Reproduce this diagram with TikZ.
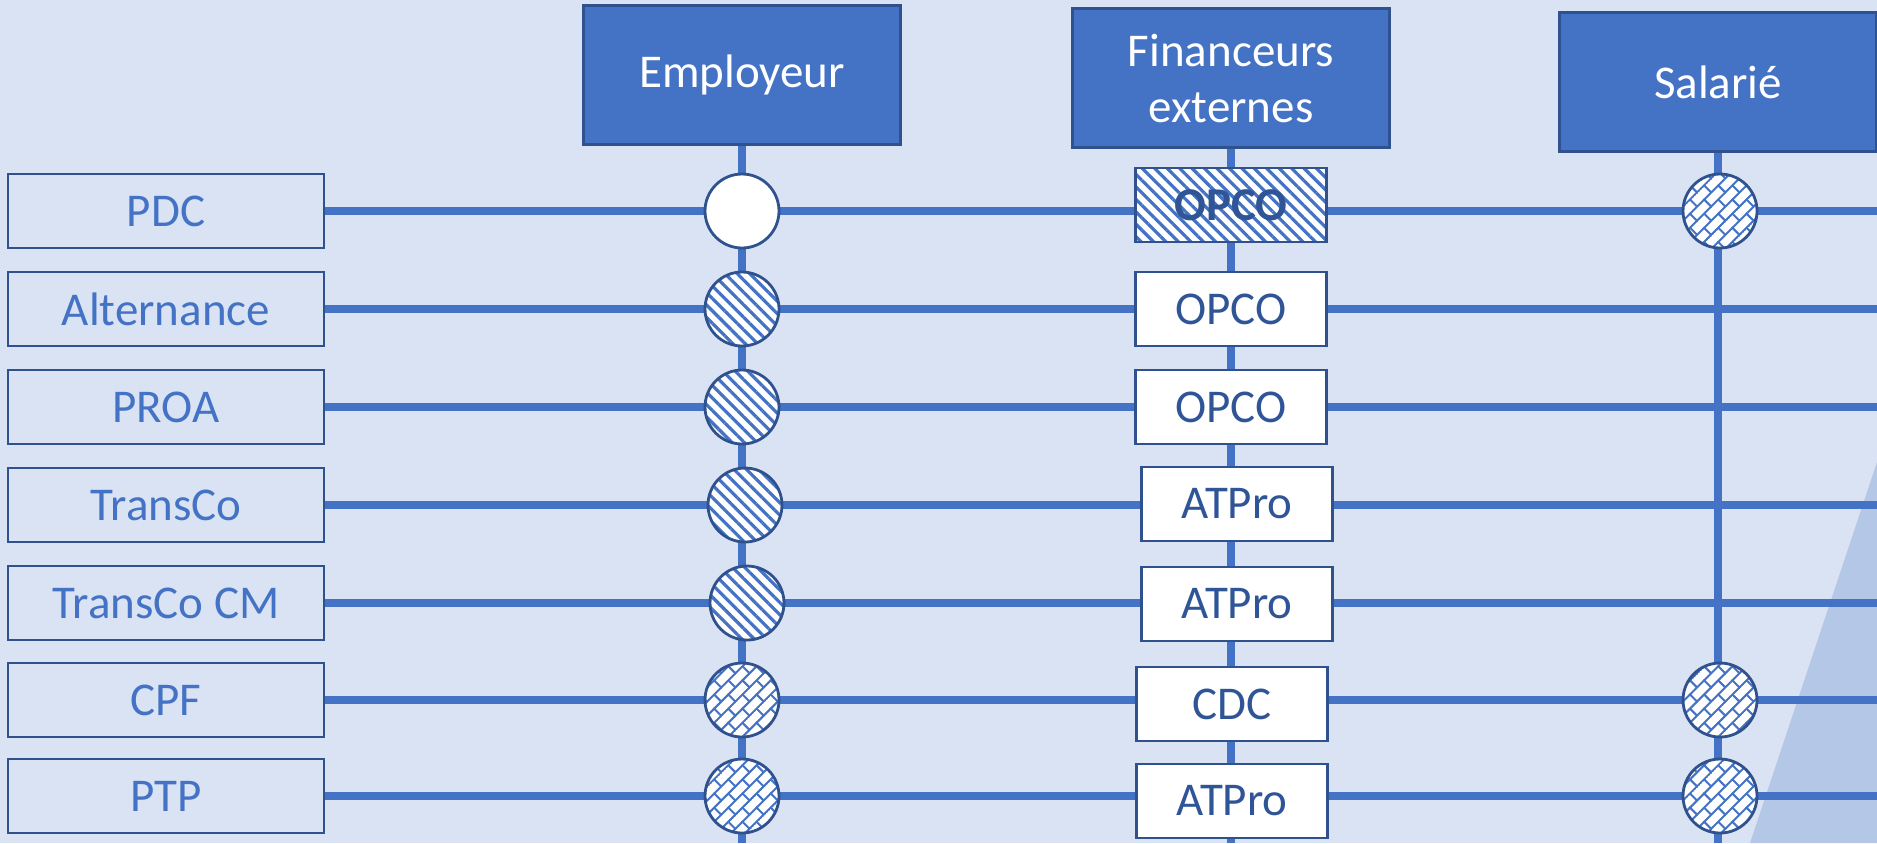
\documentclass[tikz,border=0pt]{standalone}
\usepackage{fontspec}
\setmainfont{Carlito}
\usetikzlibrary{patterns.meta}

\definecolor{bgblue}{HTML}{DAE3F3}
\definecolor{triblue}{HTML}{B4C7E7}
\definecolor{lineblue}{HTML}{4472C4}
\definecolor{edgeblue}{HTML}{2F528F}
\definecolor{textblue}{HTML}{2F5597}

\pgfdeclarelayer{bg}
\pgfdeclarelayer{lines}
\pgfsetlayers{bg,lines,main}

% diagonal brick hatching
\pgfdeclarepattern{
  name=DiagBricks,
  type=uncolored,
  bottom left={\pgfpoint{-.5pt}{-.5pt}},
  top right={\pgfpoint{10.5pt}{10.5pt}},
  tile size={\pgfpoint{10pt}{10pt}},
  tile transformation={\pgftransformrotate{45}},
  code={
    \pgfsetlinewidth{1pt}
    \pgfpathmoveto{\pgfpoint{-.5pt}{0pt}}\pgfpathlineto{\pgfpoint{10.5pt}{0pt}}
    \pgfpathmoveto{\pgfpoint{-.5pt}{5pt}}\pgfpathlineto{\pgfpoint{10.5pt}{5pt}}
    \pgfpathmoveto{\pgfpoint{0pt}{0pt}}\pgfpathlineto{\pgfpoint{0pt}{5pt}}
    \pgfpathmoveto{\pgfpoint{5pt}{5pt}}\pgfpathlineto{\pgfpoint{5pt}{10pt}}
    \pgfusepath{stroke}
  }
}

\begin{document}
\begin{tikzpicture}[x=0.5pt,y=-0.5pt,
  every node/.style={font=\fontsize{23.5}{28}\selectfont},
  rail/.style={line width=3.75pt,lineblue},
  header/.style={draw=edgeblue,line width=1.2pt,fill=lineblue,text=white,
    minimum width=158.5pt,minimum height=69.5pt,align=center,inner sep=0pt},
  scheme/.style={draw=edgeblue,line width=1.2pt,text=lineblue,
    minimum width=158pt,minimum height=37pt,inner sep=0pt},
  funder/.style={draw=edgeblue,line width=1.2pt,fill=white,text=textblue,
    minimum width=95.5pt,minimum height=37pt,inner sep=0pt},
  slot/.style={circle,draw=edgeblue,line width=1.4pt,fill=white,
    minimum size=37pt,inner sep=0pt},
  striped/.style={preaction={fill=white},
    pattern={Lines[angle=-45,distance=4.4pt,line width=1.6pt]},pattern color=lineblue},
  bricked/.style={preaction={fill=white},pattern=DiagBricks,pattern color=lineblue}]

\useasboundingbox (0,0) rectangle (1877,843);
\coordinate (edge) at (1877,0);
\coordinate (floor) at (0,843);

\begin{pgfonlayer}{bg}
\fill[bgblue] (0,0) rectangle (1877,843);
\fill[triblue] (1877,462) -- (1877,843) -- (1750,843) -- cycle;
\end{pgfonlayer}

% column heads
\node[header] (emp) at (742,75) {Employeur};
\node[header] (fin) at (1231,78) {Financeurs\\externes};
\node[header] (sal) at (1718,82) {Salarié};

% schemes
\node[scheme] (pdc) at (166,211) {PDC};
\node[scheme] (alt) at (166,309) {Alternance};
\node[scheme] (proa) at (166,407) {PROA};
\node[scheme] (tc) at (166,505) {TransCo};
\node[scheme] (tccm) at (166,603) {TransCo CM};
\node[scheme] (cpf) at (166,700) {CPF};
\node[scheme] (ptp) at (166,796) {PTP};

% employeur
\node[slot] (e-pdc) at (742,211) {};
\node[slot,striped] (e-alt) at (742,309) {};
\node[slot,striped] (e-proa) at (742,407) {};
\node[slot,striped] (e-tc) at (745,505) {};
\node[slot,striped] (e-tccm) at (747,603) {};
\node[slot,bricked] (e-cpf) at (742,700) {};
\node[slot,bricked] (e-ptp) at (742,796) {};

% financeurs externes
\node[funder,striped,font=\fontsize{23.5}{28}\selectfont\bfseries] (f-pdc) at (1231,205) {OPCO};
\node[funder] (f-alt) at (1231,309) {OPCO};
\node[funder] (f-proa) at (1231,407) {OPCO};
\node[funder] (f-tc) at (1237,504) {ATPro};
\node[funder] (f-tccm) at (1237,604) {ATPro};
\node[funder] (f-cpf) at (1232,704) {CDC};
\node[funder] (f-ptp) at (1232,801) {ATPro};

% salarie
\node[slot,bricked] (s-pdc) at (1720,211) {};
\node[slot,bricked] (s-cpf) at (1720,700) {};
\node[slot,bricked] (s-ptp) at (1720,796) {};

\begin{pgfonlayer}{lines}
\foreach \row in {pdc,alt,proa,tc,tccm,cpf,ptp}
  \draw[rail] (\row.east) -- (\row.east -| edge);
\foreach \col in {emp,fin,sal}
  \draw[rail] (\col.south) -- (\col.south |- floor);
\end{pgfonlayer}

\end{tikzpicture}
\end{document}
